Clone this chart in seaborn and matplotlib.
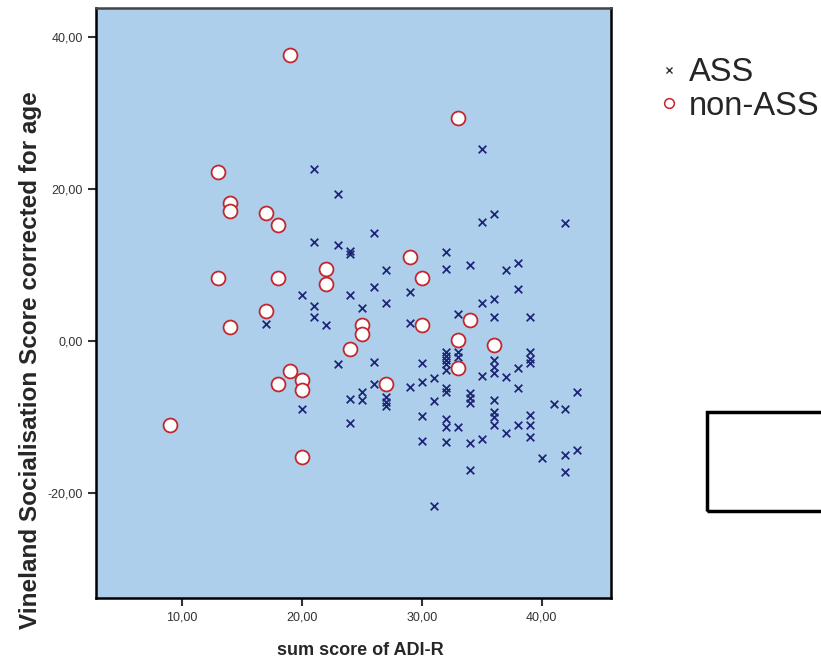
import matplotlib
matplotlib.use('Agg')
import matplotlib.pyplot as plt
import seaborn as sns
import pandas as pd
from matplotlib.lines import Line2D
from matplotlib.patches import Rectangle
from matplotlib.ticker import FuncFormatter

# ASS group (crosses)
ass_x = [35, 21, 23, 36, 35, 42, 26, 21, 23, 24, 24, 32, 32, 27, 34, 38, 37, 38, 26, 24,
         20, 27, 29, 25, 21, 35, 36, 33, 36, 39, 21, 29, 17, 22,
         23, 26, 30, 32, 32, 32, 32, 32, 33, 33, 39, 39, 39, 36, 36, 36, 38, 35, 37, 31,
         30, 26, 29, 32, 32, 38, 24, 25, 25, 27, 27, 27, 34, 34, 34, 31, 36, 43, 41, 42,
         20, 24, 30, 32, 32, 36, 36, 36, 33, 38, 39, 39, 39, 37, 35, 30, 32, 34, 40, 42,
         43, 42, 34, 31]
ass_y = [25.3, 22.6, 19.4, 16.7, 15.6, 15.5, 14.2, 13.0, 12.6, 11.8, 11.4, 11.7, 9.5, 9.4,
         10.0, 10.3, 9.3, 6.8, 7.1, 6.0, 6.0, 5.0, 6.4, 4.3, 4.6, 5.0, 5.5, 3.5, 3.1, 3.2,
         3.1, 2.4, 2.3, 2.1,
         -3.0, -2.8, -2.9, -1.5, -2.0, -2.5, -3.0, -3.8, -1.4, -2.1, -1.5, -2.4, -2.9,
         -2.5, -3.4, -4.2, -3.5, -4.6, -4.7, -4.8, -5.4, -5.6, -6.1, -6.2, -6.7, -6.2,
         -7.6, -6.7, -7.8, -7.3, -8.0, -8.6, -6.9, -7.5, -8.1, -7.9, -7.8, -6.7, -8.3,
         -8.9, -8.9, -10.8, -9.9, -10.2, -11.3, -9.3, -10.0, -11.1, -11.3, -11.1, -9.7,
         -11.1, -12.6, -12.1, -12.9, -13.2, -13.3, -13.4, -15.4, -15.0, -14.3, -17.2,
         -17.0, -21.7]

# non-ASS group (circles)
non_x = [19, 33, 13, 14, 14, 17, 18, 13, 18, 22, 22, 29, 30, 17, 14, 25, 25, 30, 34, 33,
         36, 24, 19, 18, 20, 20, 27, 33, 9, 20]
non_y = [37.6, 29.3, 22.2, 18.2, 17.1, 16.8, 15.3, 8.25, 8.25, 9.5, 7.5, 11.1, 8.3, 4.0,
         1.9, 2.1, 0.9, 2.1, 2.8, 0.1, -0.5, -1.0, -4.0, -5.6, -5.1, -6.4, -5.6, -3.6,
         -11.0, -15.2]

groups = ['ASS', 'non-ASS']
x_ticks = [10, 20, 30, 40]
y_ticks = [-20, 0, 20, 40]

df = pd.DataFrame({
    'adi': ass_x + non_x,
    'vineland': ass_y + non_y,
    'group': [groups[0]] * len(ass_x) + [groups[1]] * len(non_x),
})

sns.set_style('white')
plt.rcParams['font.family'] = ['Liberation Sans', 'DejaVu Sans']

fig = plt.figure(figsize=(8.21, 6.59), dpi=100)
ax = fig.add_axes([96/821, 1 - 598/659, (611-96)/821, (598-8)/659])
ax.set_facecolor('#AECFEC')

ass = df[df.group == 'ASS']
non = df[df.group == 'non-ASS']
sns.scatterplot(data=ass, x='adi', y='vineland', marker='x', color='#1F2677',
                s=30, linewidth=1.3, ax=ax, legend=False, zorder=3)
sns.scatterplot(data=non, x='adi', y='vineland', marker='o', facecolor='white',
                edgecolor='#C0282D', s=100, linewidth=1.3, ax=ax, legend=False, zorder=4)

ax.set_xlim(2.8, 45.8)
ax.set_ylim(-33.8, 43.8)
ax.set_xticks(x_ticks)
ax.set_yticks(y_ticks)
fmt = FuncFormatter(lambda v, p: f'{v:.2f}'.replace('.', ','))
ax.xaxis.set_major_formatter(fmt)
ax.yaxis.set_major_formatter(fmt)
ax.tick_params(axis='both', direction='out', length=6, width=1.5, labelsize=9,
               labelcolor='#333333', color='#333333', bottom=True, left=True)
for s in ax.spines.values():
    s.set_color('black')
    s.set_linewidth(1.8)
ax.spines['top'].set_color('#444444')

ax.set_xlabel('sum score of ADI-R', fontsize=13, fontweight='bold')
ax.set_ylabel('Vineland Socialisation Score corrected for age', fontsize=17.5,
              fontweight='bold')
ax.xaxis.set_label_coords((360 - 96) / 515, (598 - 642) / 590)
ax.yaxis.set_label_coords((42 - 96) / 515, (598 - 360) / 590)

handles = [
    Line2D([], [], linestyle='none', marker='x', color='#333333', markersize=5, mew=1),
    Line2D([], [], linestyle='none', marker='o', markerfacecolor='white',
           markeredgecolor='#C0282D', markersize=7, mew=1.1),
]
fig.legend(handles, groups, loc='upper left', bbox_to_anchor=(643/821, 1 - 44/659),
           frameon=False, fontsize=23.5, handletextpad=0.2, handlelength=0.8,
           labelspacing=0.08, borderaxespad=0)

fig.patches.append(Rectangle((707/821, 1 - 511/659), 0.3, 99/659, transform=fig.transFigure,
                             fill=False, edgecolor='black', linewidth=2.5))

plt.savefig('out.png', dpi=100)
